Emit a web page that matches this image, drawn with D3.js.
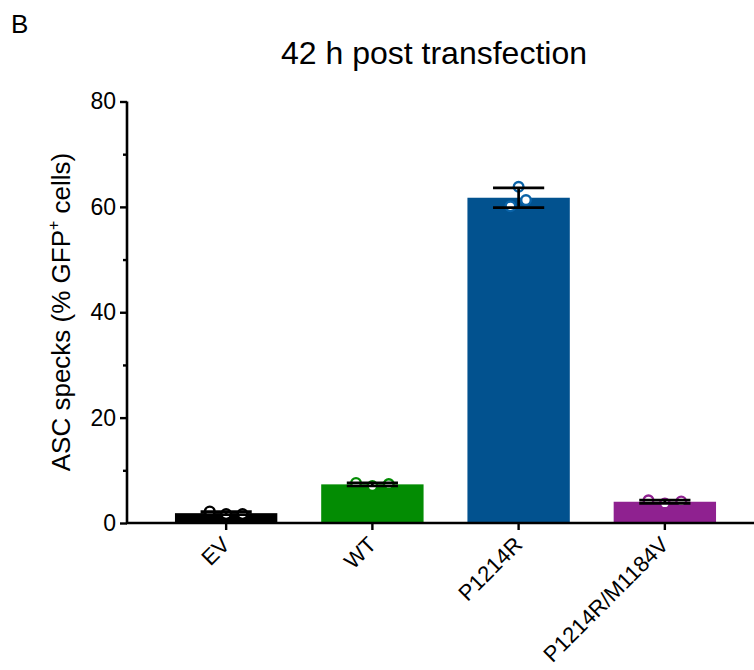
<!DOCTYPE html>
<html><head><meta charset="utf-8">
<script src="https://cdn.jsdelivr.net/npm/d3@7"></script>
<style>
html,body{margin:0;padding:0;background:#fff;}
svg{display:block;font-family:"Liberation Sans",Arial,Helvetica,sans-serif;}
</style></head>
<body>
<script>
// ---- data ----
const categories = ["EV", "WT", "P1214R", "P1214R/M1184V"];
const barColors = ["#000000", "#038c03", "#02528f", "#8f2190"];
const pointColors = ["#000000", "#038c03", "#0a63a8", "#8f2190"];
const replicateEV = [2.2, 1.7, 1.7];
const replicateWT = [7.6, 7.0, 7.4];
const replicateP1214R = [63.8, 61.3, 60.1];
const replicateDouble = [4.3, 3.7, 4.1];
const replicates = [replicateEV, replicateWT, replicateP1214R, replicateDouble];
const jitterEV = [-1, 0, 1];
const jitterWT = [-1, 0, 1];
const jitterP1214R = [0, 0.45, -0.5];
const jitterDouble = [-1, 0, 1];
const jitters = [jitterEV, jitterWT, jitterP1214R, jitterDouble];
const yTicks = [0, 20, 40, 60, 80];
const yMinorTicks = [10, 30, 50, 70];
const title = "42 h post transfection";

const W = 754, H = 670;
const FONT = "Liberation Sans, Arial, sans-serif";
const svg = d3.select("body").append("svg").attr("width", W).attr("height", H);

const x = d3.scaleBand().domain(categories).range([127, 764]).paddingInner(0.3).paddingOuter(0.328);
const y = d3.scaleLinear().domain([0, 80]).range([523, 101.5]);

const stats = replicates.map(v => ({mean: d3.mean(v), sd: d3.deviation(v)}));

// bars
svg.append("g").selectAll("rect").data(categories).join("rect")
  .attr("x", d => x(d)).attr("width", x.bandwidth())
  .attr("y", (d, i) => y(stats[i].mean))
  .attr("height", (d, i) => y(0) - y(stats[i].mean))
  .attr("fill", (d, i) => barColors[i]);

// points
const pts = [];
categories.forEach((c, i) => replicates[i].forEach((v, j) => pts.push({c, i, v, j: jitters[i][j]})));
svg.append("g").selectAll("circle").data(pts).join("circle")
  .attr("cx", d => x(d.c) + x.bandwidth() / 2 + d.j * x.bandwidth() * 0.16)
  .attr("cy", d => y(d.v))
  .attr("r", 4.8)
  .attr("fill", "#fff")
  .attr("stroke", d => pointColors[d.i])
  .attr("stroke-width", 2.4);

// error bars
const eb = svg.append("g").attr("stroke", "#000").attr("stroke-width", 2.7).attr("fill", "none");
categories.forEach((c, i) => {
  const cx = x(c) + x.bandwidth() / 2, hw = x.bandwidth() / 4;
  const lo = stats[i].mean - stats[i].sd, hi = stats[i].mean + stats[i].sd;
  eb.append("line").attr("x1", cx).attr("x2", cx).attr("y1", y(lo)).attr("y2", y(hi));
  eb.append("line").attr("x1", cx - hw).attr("x2", cx + hw).attr("y1", y(hi)).attr("y2", y(hi));
  eb.append("line").attr("x1", cx - hw).attr("x2", cx + hw).attr("y1", y(lo)).attr("y2", y(lo));
});

// y axis
const yAxis = svg.append("g").attr("transform", "translate(127,0)")
  .call(d3.axisLeft(y).tickValues(yTicks).tickSize(7).tickPadding(4).tickFormat(d3.format("d")));
yAxis.select(".domain").attr("stroke-width", 2.6).attr("d", `M0,${y(80)}V${y(0)}`);
yAxis.selectAll(".tick line").attr("stroke-width", 2.4);
yAxis.selectAll(".tick text").attr("font-size", 23).attr("font-family", FONT).attr("fill", "#000");
svg.append("g").attr("transform", "translate(127,0)")
  .call(d3.axisLeft(y).tickValues(yMinorTicks).tickSize(4).tickFormat(""))
  .call(g => g.select(".domain").remove())
  .selectAll(".tick line").attr("stroke-width", 2.4);

// x axis
const xAxis = svg.append("g").attr("transform", `translate(0,${y(0)})`)
  .call(d3.axisBottom(x).tickSize(7).tickSizeOuter(0));
xAxis.select(".domain").attr("stroke-width", 2.6).attr("d", `M126,0H${W}`);
xAxis.selectAll(".tick line").attr("stroke-width", 2.4);
xAxis.selectAll(".tick text")
  .attr("font-size", 22).attr("font-family", FONT).attr("fill", "#000")
  .attr("text-anchor", "end")
  .attr("y", 0).attr("dy", "0.71em")
  .attr("transform", "translate(-6,12) rotate(-45)");

// title
svg.append("text").attr("x", 434).attr("y", 64).attr("text-anchor", "middle")
  .attr("font-size", 32).text(title);

// panel letter
svg.append("text").attr("x", 11).attr("y", 33).attr("font-size", 26).text("B");

// y label
const yl = svg.append("text").attr("transform", `translate(70,312) rotate(-90)`)
  .attr("text-anchor", "middle").attr("font-size", 26);
yl.append("tspan").text("ASC specks (% GFP");
yl.append("tspan").attr("font-size", 16).attr("dy", -11).text("+");
yl.append("tspan").attr("dy", 11).text(" cells)");
</script>
</body></html>
